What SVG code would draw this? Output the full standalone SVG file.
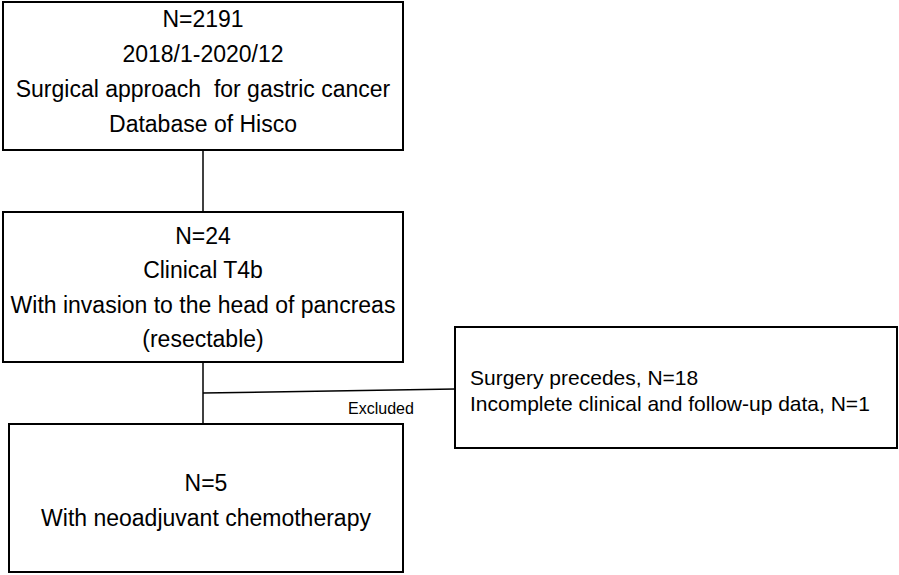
<svg xmlns="http://www.w3.org/2000/svg" width="899" height="575" viewBox="0 0 899 575">
<style>
.box{fill:#fff;stroke:#000;stroke-width:2}
.t{font-family:"Liberation Sans",Arial,sans-serif;font-size:23px;fill:#000;text-anchor:middle}
.s{font-family:"Liberation Sans",Arial,sans-serif;font-size:21px;fill:#000}
.c{stroke:#000;stroke-width:1.5;fill:none}
</style>
<rect width="899" height="575" fill="#fff"/>
<g id="connectors">
<line class="c" x1="203" y1="150" x2="203" y2="212"/>
<line class="c" x1="203" y1="362" x2="203" y2="424"/>
<line class="c" x1="203" y1="393" x2="455" y2="389"/>
<text x="348" y="414" style="font-family:'Liberation Sans',Arial,sans-serif;font-size:16px">Excluded</text>
</g>
<g id="n1">
<rect class="box" x="3" y="2" width="400" height="148"/>
<text class="t" x="203" y="27">N=2191</text>
<text class="t" x="203" y="62">2018/1-2020/12</text>
<text class="t" x="203" y="97" xml:space="preserve">Surgical approach  for gastric cancer</text>
<text class="t" x="203" y="132">Database of Hisco</text>
</g>
<g id="n2">
<rect class="box" x="3" y="212" width="400" height="150"/>
<text class="t" x="203" y="244">N=24</text>
<text class="t" x="203" y="278">Clinical T4b</text>
<text class="t" x="203" y="313">With invasion to the head of pancreas</text>
<text class="t" x="203" y="347">(resectable)</text>
</g>
<g id="n3">
<rect class="box" x="455" y="327" width="442" height="121"/>
<text class="s" x="470" y="385">Surgery precedes, N=18</text>
<text class="s" x="470" y="411">Incomplete clinical and follow-up data, N=1</text>
</g>
<g id="n4">
<rect class="box" x="9" y="424" width="394" height="148"/>
<text class="t" x="206" y="491">N=5</text>
<text class="t" x="206" y="526">With neoadjuvant chemotherapy</text>
</g>
</svg>
